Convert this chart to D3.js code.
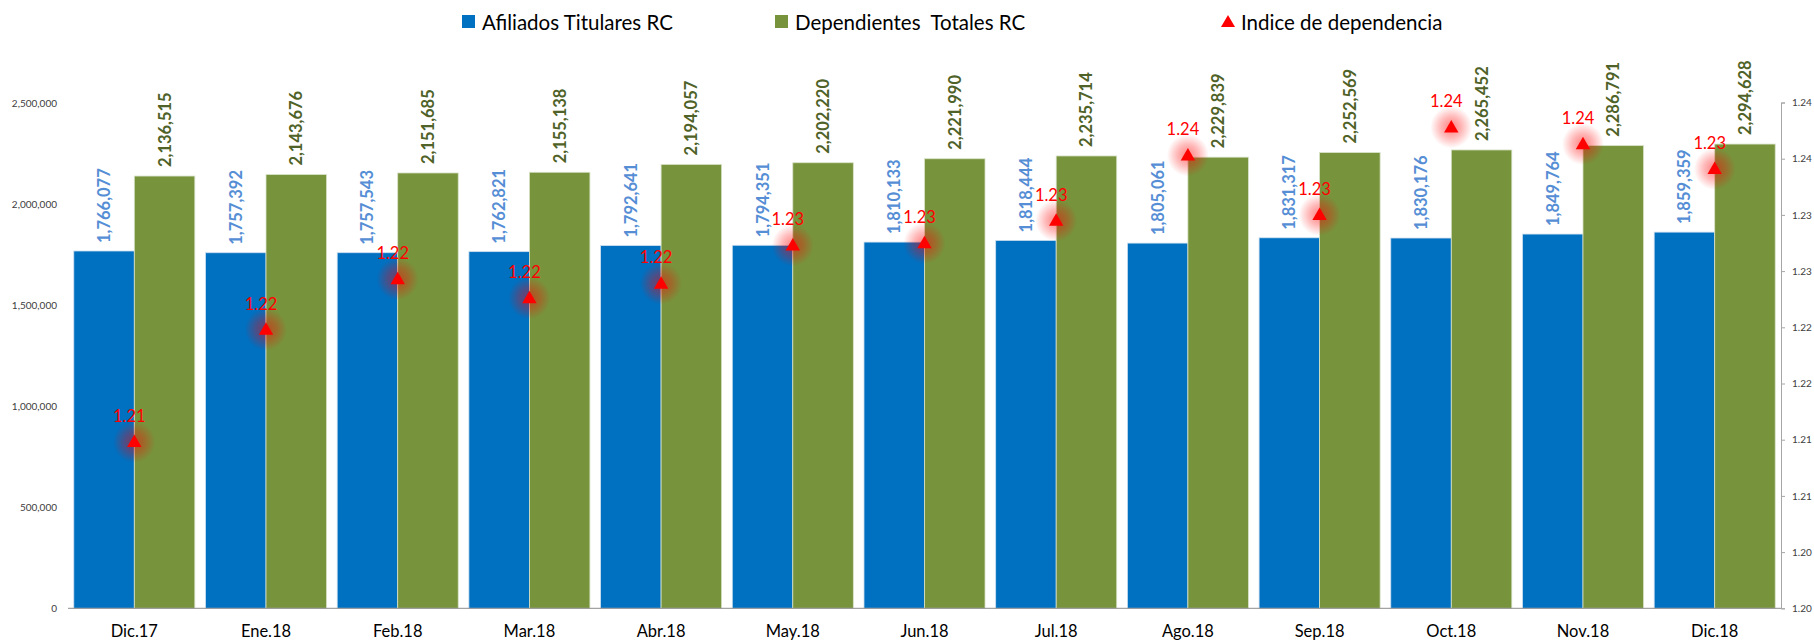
<!DOCTYPE html>
<html>
<head>
<meta charset="utf-8">
<script src="https://cdn.jsdelivr.net/npm/d3@7"></script>
<style>
  body { margin: 0; background: #fff; }
</style>
</head>
<body>
<div></div>
<script>
const width = 1814, height = 641

// data
const categories = ["Dic.17","Ene.18","Feb.18","Mar.18","Abr.18","May.18","Jun.18","Jul.18","Ago.18","Sep.18","Oct.18","Nov.18","Dic.18"]
const afiliados = [1766077,1757392,1757543,1762821,1792641,1794351,1810133,1818444,1805061,1831317,1830176,1849764,1859359]
const dependientes = [2136515,2143676,2151685,2155138,2194057,2202220,2221990,2235714,2229839,2252569,2265452,2286791,2294628]
const indice = [1.2098,1.2198,1.2243,1.2226,1.2239,1.2273,1.2275,1.2295,1.2353,1.2300,1.2378,1.2363,1.2341]
const leftTicks = [0,500000,1000000,1500000,2000000,2500000]
const rightTicks = [1.195,1.200,1.205,1.210,1.215,1.220,1.225,1.230,1.235,1.240]
const seriesNames = ["Afiliados Titulares RC", "Dependientes  Totales RC", "Indice de dependencia"]

// settings
const blue = "#0070C0"
const green = "#77933C"
const blueLabel = "#558ED5"
const greenLabel = "#4F6228"
const red = "#FF0000"
const font = "Lato, 'Open Sans', sans-serif"
const plot = {left: 68, right: 1781, top: 102.5, bottom: 608.3}

const svg = d3.select("div")
    .append("svg")
    .attr("xmlns", "http://www.w3.org/2000/svg")
    .attr("width", width)
    .attr("height", height)
    .style("font-family", font)

// glow behind the markers
const defs = svg.append("defs")
const grad = defs.append("radialGradient").attr("id", "glow")
grad.append("stop").attr("offset", "0%").attr("stop-color", red).attr("stop-opacity", 0.5)
grad.append("stop").attr("offset", "50%").attr("stop-color", red).attr("stop-opacity", 0.28)
grad.append("stop").attr("offset", "100%").attr("stop-color", red).attr("stop-opacity", 0)

// scales
const x = d3.scaleBand().domain(categories).range([plot.left, plot.right])
    .paddingInner(0.081).paddingOuter(0.044)
const half = x.bandwidth() / 2
const yl = d3.scaleLinear().domain([0, 2500000]).range([plot.bottom, plot.top])
const yr = d3.scaleLinear().domain([1.195, 1.240]).range([plot.bottom, plot.top])
const fmtRight = v => (Math.round(v * 100 + 1e-6) / 100).toFixed(2)

// left axis labels (no line)
svg.append("g").selectAll("text").data(leftTicks).enter().append("text")
    .attr("x", plot.left - 11)
    .attr("y", d => yl(d))
    .attr("text-anchor", "end")
    .attr("dominant-baseline", "central")
    .attr("font-size", 10)
    .attr("fill", "#404040")
    .text(d => d3.format(",")(d))

// bars
const rows = categories.map((c, i) => ({c, a: afiliados[i], d: dependientes[i], k: indice[i]}))
svg.append("g").selectAll("rect").data(rows).enter().append("rect")
    .attr("x", d => x(d.c))
    .attr("y", d => yl(d.a))
    .attr("width", half)
    .attr("height", d => yl(0) - yl(d.a))
    .attr("fill", blue)
    .attr("stroke", "#cfe0f0").attr("stroke-width", 0.8)
svg.append("g").selectAll("rect").data(rows).enter().append("rect")
    .attr("x", d => x(d.c) + half)
    .attr("y", d => yl(d.d))
    .attr("width", half)
    .attr("height", d => yl(0) - yl(d.d))
    .attr("fill", green)
    .attr("stroke", "#d8e2c8").attr("stroke-width", 0.8)

// bar value labels, rotated
svg.append("g").selectAll("text").data(rows).enter().append("text")
    .attr("transform", d => `translate(${x(d.c) + half / 2},${yl(d.a) - 8}) rotate(-90)`)
    .attr("dominant-baseline", "central")
    .attr("font-size", 16.5).attr("font-weight", "bold")
    .attr("fill", blueLabel)
    .text(d => d3.format(",")(d.a))
svg.append("g").selectAll("text").data(rows).enter().append("text")
    .attr("transform", d => `translate(${x(d.c) + half * 1.5},${yl(d.d) - 9}) rotate(-90)`)
    .attr("dominant-baseline", "central")
    .attr("font-size", 16.5).attr("font-weight", "bold")
    .attr("fill", greenLabel)
    .text(d => d3.format(",")(d.d))

// x axis line + labels
svg.append("line")
    .attr("x1", plot.left).attr("x2", plot.right)
    .attr("y1", yl(0)).attr("y2", yl(0))
    .attr("stroke", "#8c8c8c").attr("stroke-width", 1)
svg.append("g").selectAll("text").data(categories).enter().append("text")
    .attr("x", d => x(d) + half)
    .attr("y", 631)
    .attr("text-anchor", "middle")
    .attr("dominant-baseline", "central")
    .attr("font-size", 16.5)
    .attr("fill", "#000")
    .text(d => d)

// right axis
const ra = svg.append("g").attr("transform", `translate(${plot.right},0)`)
    .call(d3.axisRight(yr).tickValues(rightTicks).tickFormat(fmtRight).tickSize(4).tickPadding(7))
ra.select(".domain").attr("stroke", "#a6a6a6")
ra.selectAll(".tick line").attr("stroke", "#a6a6a6")
ra.selectAll(".tick text").attr("font-family", font).attr("font-size", 10).attr("fill", "#404040")

// index markers
const tri = d3.symbol().type(d3.symbolTriangle).size(90)
const mk = svg.append("g").selectAll("g").data(rows).enter().append("g")
    .attr("transform", d => `translate(${x(d.c) + half},${yr(d.k)})`)
mk.append("circle").attr("r", 21).attr("fill", "url(#glow)")
mk.append("path").attr("d", tri).attr("fill", red).attr("transform", "translate(0,1)")
mk.append("text")
    .attr("x", -5).attr("y", -20)
    .attr("text-anchor", "middle")
    .attr("font-size", 16.5)
    .attr("fill", red)
    .text(d => fmtRight(d.k))

// legend
const legendX = [462, 775, 1221]
const lg = svg.append("g").selectAll("g").data(seriesNames).enter().append("g")
    .attr("transform", (d, i) => `translate(${legendX[i]},22)`)
lg.filter((d, i) => i < 2).append("rect")
    .attr("x", 0).attr("y", -7).attr("width", 13).attr("height", 13)
    .attr("fill", (d, i) => [blue, green][i])
lg.filter((d, i) => i == 2).append("path")
    .attr("d", d3.symbol().type(d3.symbolTriangle).size(85))
    .attr("transform", "translate(7,1)")
    .attr("fill", red)
lg.append("text")
    .attr("x", 20).attr("y", 0)
    .attr("dominant-baseline", "central")
    .attr("font-size", 20.5)
    .attr("fill", "#000")
    .attr("xml:space", "preserve")
    .style("white-space", "pre")
    .text(d => d)
</script>
</body>
</html>
